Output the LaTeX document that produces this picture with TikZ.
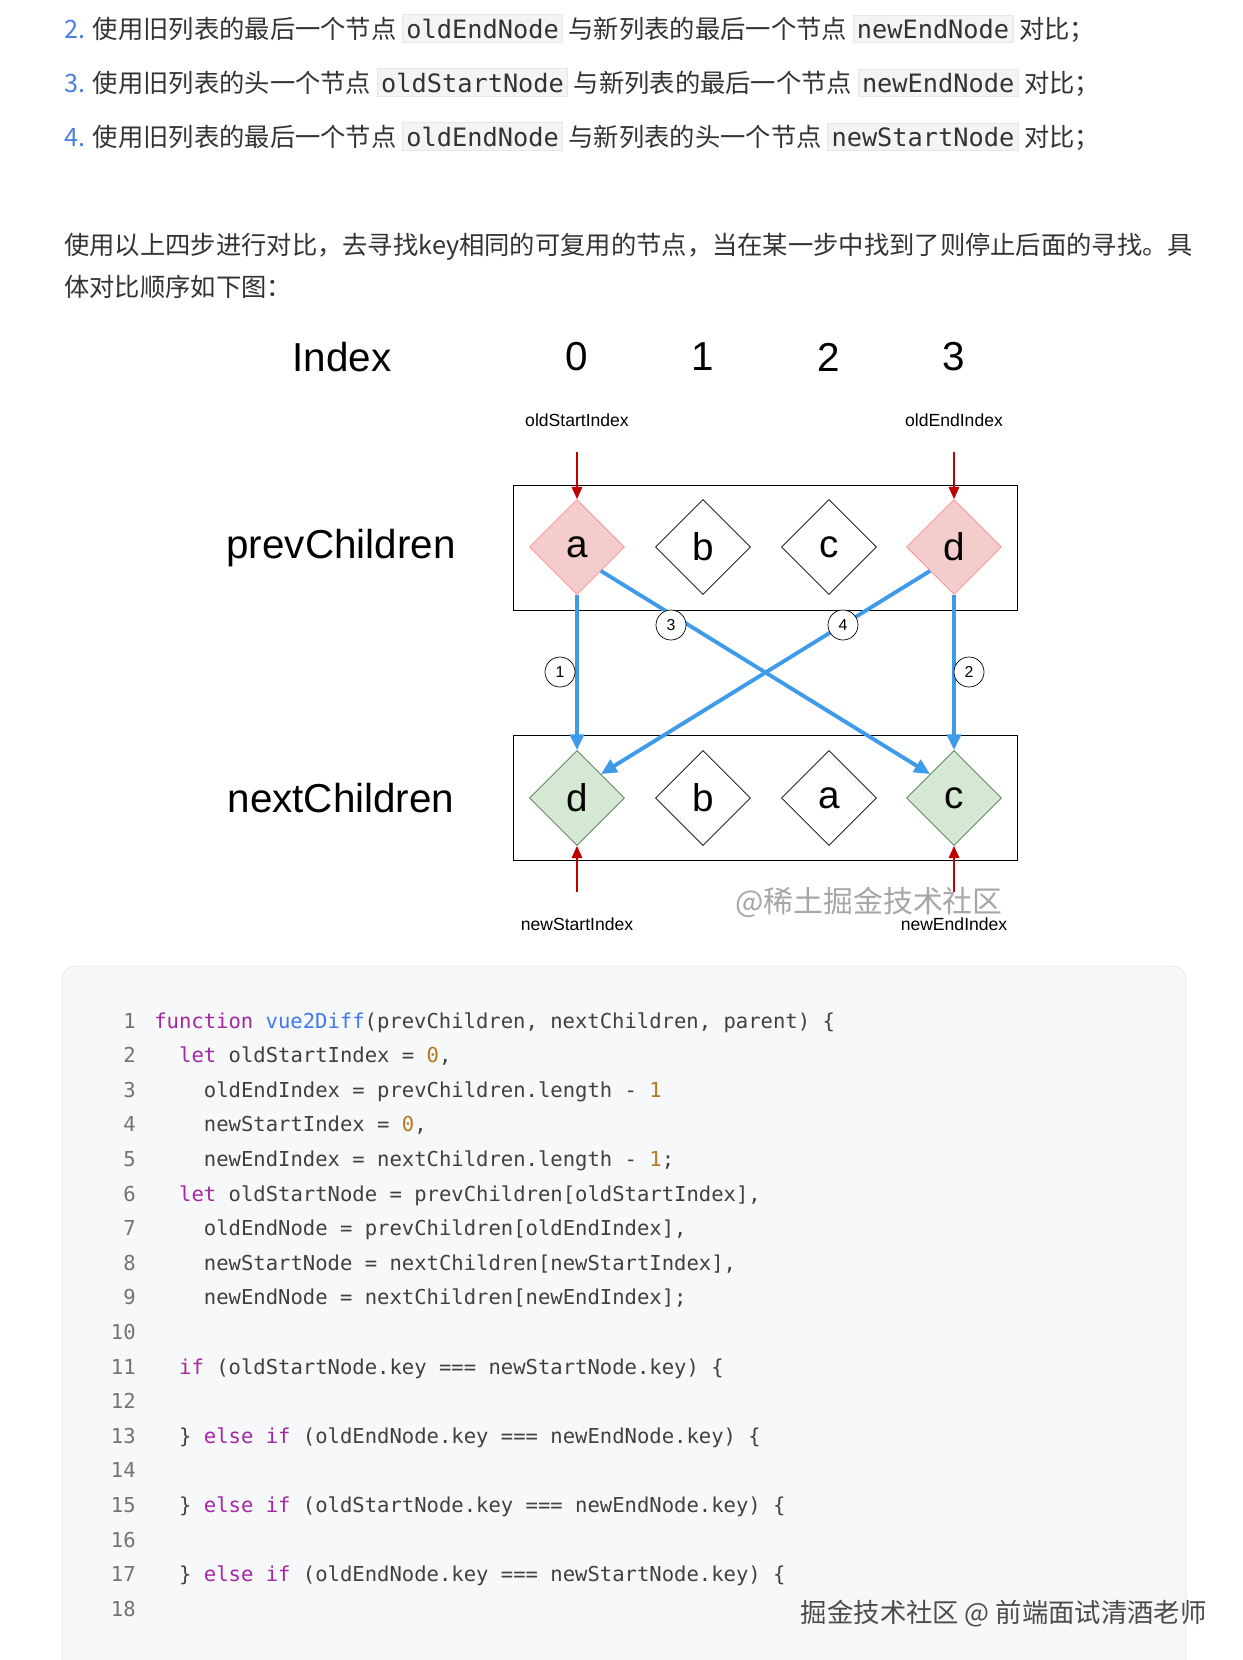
\documentclass[tikz,border=0pt]{standalone}
\usepackage{fontspec}
\setmainfont{Noto Sans CJK SC}
\setmonofont{DejaVu Sans Mono}
\newfontfamily\diafont{Liberation Sans}
\usetikzlibrary{shapes.geometric,arrows.meta}
\definecolor{numblue}{HTML}{4A7FE0}
\definecolor{chipbg}{HTML}{F3F4F5}
\definecolor{chipframe}{HTML}{E4E6E8}
\definecolor{codebg}{HTML}{F7F8F9}
\definecolor{kwcol}{HTML}{A626A4}
\definecolor{fncol}{HTML}{4078F2}
\definecolor{nmcol}{HTML}{B7791F}
\definecolor{pinkfill}{HTML}{F4CCCC}
\definecolor{greenfill}{HTML}{D5E8D4}
\definecolor{linkblue}{HTML}{3D9BE9}
\definecolor{redarrow}{HTML}{C00000}
\newcommand{\chip}[1]{{\setlength\fboxsep{2pt}\fcolorbox{chipframe}{chipbg}{\ttfamily #1}}}
\newcommand{\kw}[1]{\textcolor{kwcol}{#1}}
\newcommand{\fn}[1]{\textcolor{fncol}{#1}}
\newcommand{\nm}[1]{\textcolor{nmcol}{#1}}
\begin{document}
\begin{tikzpicture}[x=0.02cm,y=-0.02cm,
  prose/.style={anchor=base west,inner sep=0pt,font=\fontsize{14.4}{16}\selectfont,text=black!80},
  codeline/.style={anchor=base west,inner sep=0pt,font=\ttfamily\fontsize{11.7}{14}\selectfont,text=black!75},
  lineno/.style={anchor=base east,inner sep=0pt,font=\ttfamily\fontsize{11.7}{14}\selectfont,text=black!55},
  item/.style={diamond,aspect=1,draw=black,minimum size=1.9cm,inner sep=0pt,font=\diafont\fontsize{22}{24}\selectfont},
  oldnode/.style={item,fill=pinkfill,draw=pinkfill!70!red},
  newnode/.style={item,fill=greenfill,draw=greenfill!70!green!50!black},
  biglabel/.style={font=\diafont\fontsize{23}{26}\selectfont},
  smalllabel/.style={font=\diafont\fontsize{10}{12}\selectfont},
  step num/.style={circle,draw=black,fill=white,inner sep=0pt,minimum size=0.6cm,font=\diafont\fontsize{9}{10}\selectfont},
  bluelink/.style={-{Triangle[length=9pt,width=8pt]},linkblue,line width=2.2pt},
  redlink/.style={-{Triangle[length=7pt,width=6pt]},redarrow,line width=1pt}]
\useasboundingbox (0,0) rectangle (1242,1660);

% text above
\node[prose] (t2) at (64,38) {\textcolor{numblue}{2.} 使用旧列表的最后一个节点 \chip{oldEndNode} 与新列表的最后一个节点 \chip{newEndNode} 对比；};
\node[prose] (t3) at (64,92) {\textcolor{numblue}{3.} 使用旧列表的头一个节点 \chip{oldStartNode} 与新列表的最后一个节点 \chip{newEndNode} 对比；};
\node[prose] (t4) at (64,146) {\textcolor{numblue}{4.} 使用旧列表的最后一个节点 \chip{oldEndNode} 与新列表的头一个节点 \chip{newStartNode} 对比；};
\node[prose] (p1) at (64,254) {使用以上四步进行对比，去寻找key相同的可复用的节点，当在某一步中找到了则停止后面的寻找。具};
\node[prose] (p2) at (64,296) {体对比顺序如下图：};

% diagram
\node[biglabel] (index) at (342,357) {Index};
\foreach \i/\x in {0/577,1/703,2/829,3/954}
  \node[biglabel] (idx\i) at (\x,357) {\i};
\node[biglabel] (prev) at (341,548) {prevChildren};
\node[biglabel] (next) at (341,798) {nextChildren};

\draw (513,485) rectangle (1017,610);
\draw (513,735) rectangle (1017,860);

\node[oldnode] (pa) at (577,547) {a};
\node[item] (pb) at (703,547) {b};
\node[item] (pc) at (829,547) {c};
\node[oldnode] (pd) at (954,547) {d};
\node[newnode] (nd) at (577,798) {d};
\node[item] (nb) at (703,798) {b};
\node[item] (na) at (829,798) {a};
\node[newnode] (nc) at (954,798) {c};

\node[smalllabel] (osi) at (577,420) {oldStartIndex};
\node[smalllabel] (oei) at (954,420) {oldEndIndex};
\node[smalllabel] (nsi) at (577,924) {newStartIndex};
\node[smalllabel] (nei) at (954,924) {newEndIndex};
\node[font=\fontsize{17}{18}\selectfont,text=black!35] (wm) at (869,902) {@稀土掘金技术社区};

\coordinate (osiend) at (577,452);
\coordinate (oeiend) at (954,452);
\coordinate (nsiend) at (577,892);
\coordinate (neiend) at (954,892);
\draw[redlink] (osiend) -- (pa.north);
\draw[redlink] (oeiend) -- (pd.north);
\draw[redlink] (nsiend) -- (nd.south);
\draw[redlink] (neiend) -- (nc.south);

\draw[bluelink] (pa.south) -- (nd.north);
\draw[bluelink] (pd.south) -- (nc.north);
\draw[bluelink] (pa.south east) -- (nc.north west);
\draw[bluelink] (pd.south west) -- (nd.north east);
\node[step num] (s1) at (560,672) {1};
\node[step num] (s2) at (969,672) {2};
\node[step num] (s3) at (671,625) {3};
\node[step num] (s4) at (843,625) {4};

% code block
\begin{scope}
\clip (0,0) rectangle (1242,1660);
\draw[fill=codebg,draw=black!10,rounded corners=8pt] (62,966) rectangle (1186,1700);
\end{scope}
\foreach \n in {1,...,18}
  \node[lineno] (ln\n) at (136,{1020+(\n-1)*34.6+8}) {\n};
\foreach \n/\ind/\txt in {
  1/0/{\kw{function} \fn{vue2Diff}(prevChildren, nextChildren, parent) \{},
  2/2/{\kw{let} oldStartIndex = \nm{0},},
  3/4/{oldEndIndex = prevChildren.length - \nm{1}},
  4/4/{newStartIndex = \nm{0},},
  5/4/{newEndIndex = nextChildren.length - \nm{1};},
  6/2/{\kw{let} oldStartNode = prevChildren[oldStartIndex],},
  7/4/{oldEndNode = prevChildren[oldEndIndex],},
  8/4/{newStartNode = nextChildren[newStartIndex],},
  9/4/{newEndNode = nextChildren[newEndIndex];},
  11/2/{\kw{if} (oldStartNode.key === newStartNode.key) \{},
  13/2/{\} \kw{else} \kw{if} (oldEndNode.key === newEndNode.key) \{},
  15/2/{\} \kw{else} \kw{if} (oldStartNode.key === newEndNode.key) \{},
  17/2/{\} \kw{else} \kw{if} (oldEndNode.key === newStartNode.key) \{}}
  \node[codeline] (code\n) at ({154+\ind*12.4},{1020+(\n-1)*34.6+8}) {\txt};

\node[anchor=base east,inner sep=0pt,font=\fontsize{15}{17}\selectfont,text=black!70] (mark) at (1207,1622) {掘金技术社区 @ 前端面试清酒老师};
\end{tikzpicture}
\end{document}
